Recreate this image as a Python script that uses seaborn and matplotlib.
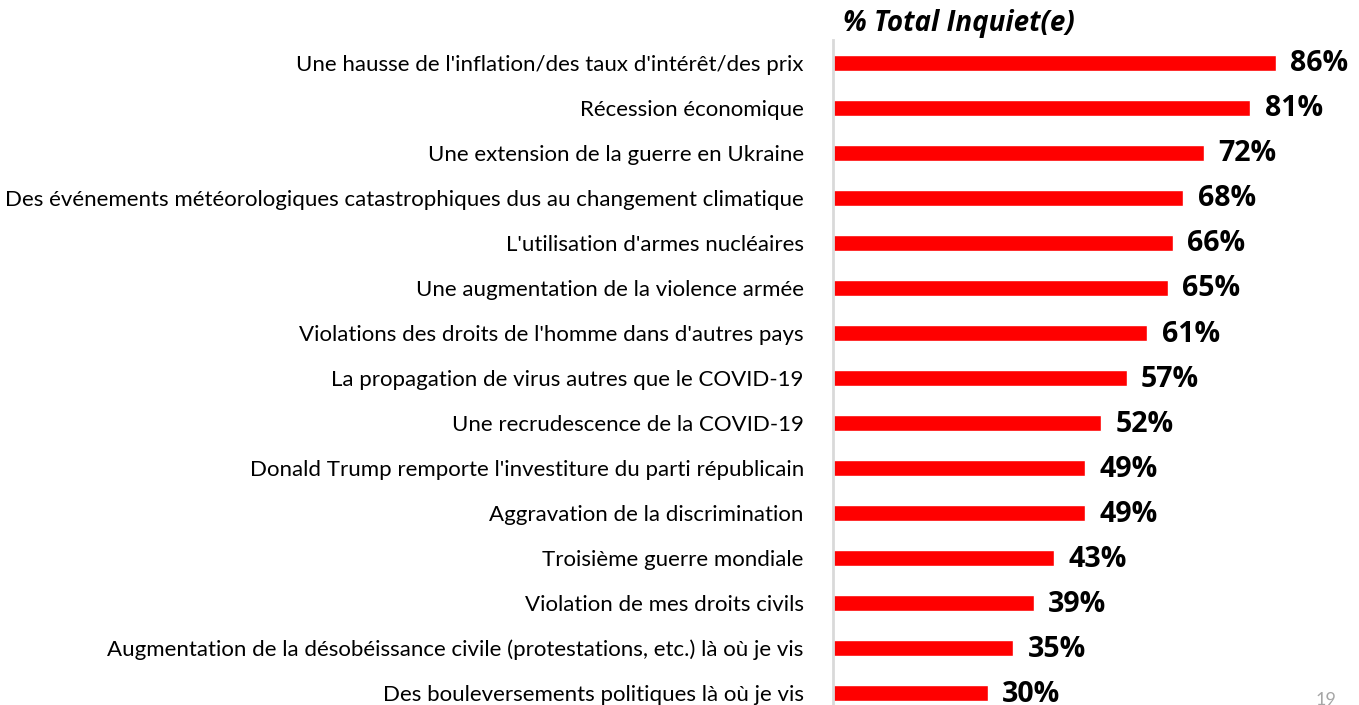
import matplotlib
matplotlib.use("Agg")
import matplotlib.pyplot as plt
import seaborn as sns
import pandas as pd

sns.set_theme(style="white")
plt.rcParams['font.family'] = ['Lato', 'DejaVu Sans']

# Data
categories = [
    "Une hausse de l'inflation/des taux d'intérêt/des prix",
    "Récession économique",
    "Une extension de la guerre en Ukraine",
    "Des événements météorologiques catastrophiques dus au changement climatique",
    "L'utilisation d'armes nucléaires",
    "Une augmentation de la violence armée",
    "Violations des droits de l'homme dans d'autres pays",
    "La propagation de virus autres que le COVID-19",
    "Une recrudescence de la COVID-19",
    "Donald Trump remporte l'investiture du parti républicain",
    "Aggravation de la discrimination",
    "Troisième guerre mondiale",
    "Violation de mes droits civils",
    "Augmentation de la désobéissance civile (protestations, etc.) là où je vis",
    "Des bouleversements politiques là où je vis",
]
values = [86, 81, 72, 68, 66, 65, 61, 57, 52, 49, 49, 43, 39, 35, 30]
title = "% Total Inquiet(e)"

df = pd.DataFrame({"category": categories, "value": values})

fig = plt.figure(figsize=(13.59, 7.05), dpi=100)
ax = fig.add_axes([833 / 1359, 0, 100 * 5.15 / 1359, 665 / 705])

sns.barplot(data=df, x="value", y="category", color="#FF0000",
            width=0.355, saturation=1, ax=ax)

ax.set_xlim(0, 100)
ax.set_ylim(14.27, -0.5)
ax.set_xlabel("")
ax.set_ylabel("")
ax.set_xticks([])
for s in ["top", "right", "bottom"]:
    ax.spines[s].set_visible(False)
ax.spines["left"].set_color("#D9D9D9")
ax.spines["left"].set_linewidth(2)
ax.tick_params(axis="y", length=0, pad=21, labelsize=16, labelcolor="#000000")

# value labels to the right of each bar
for i, v in enumerate(values):
    ax.text(v + 2.8, i + 0.03, f"{v}%", va="center", ha="left",
            fontsize=20.5, fontweight="bold", color="black",
            family=["Open Sans", "DejaVu Sans"])

fig.text(843 / 1359, 1 - 23 / 705, title, ha="left", va="center",
         fontsize=20, fontweight="bold", fontstyle="italic", color="black",
         family=["Open Sans", "DejaVu Sans"])

# page number, partly cut at the bottom edge as in the slide
fig.text(1316 / 1359, -0.004, "19", ha="left", va="bottom", fontsize=13,
         color="#A6A6A6")

fig.savefig("out.png", dpi=100)
